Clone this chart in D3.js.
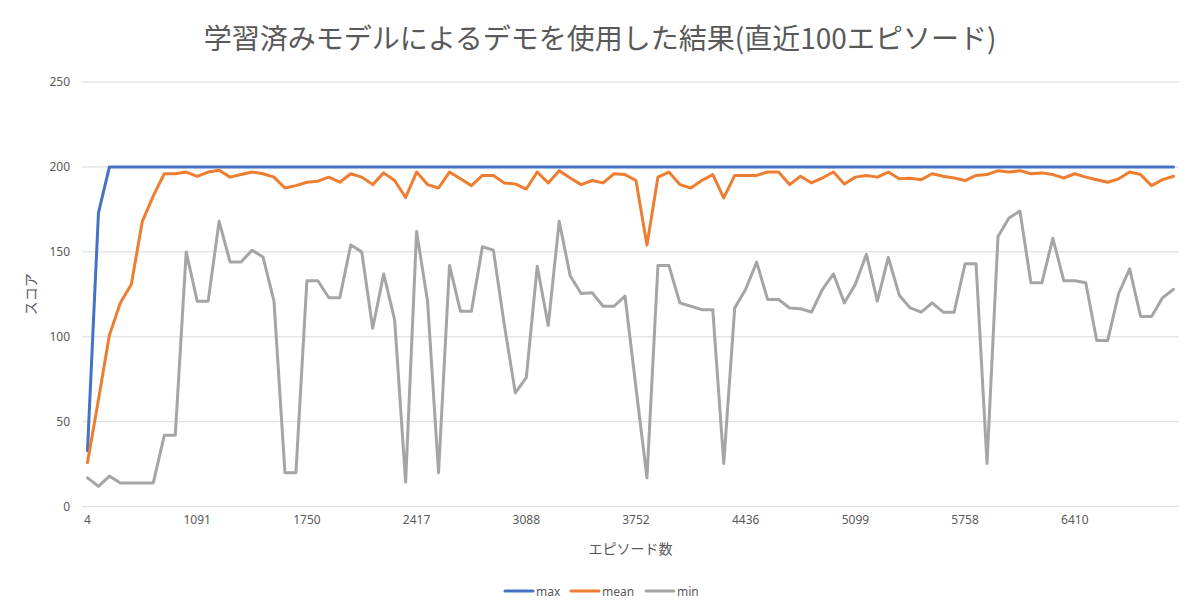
<!DOCTYPE html>
<html><head><meta charset="utf-8">
<script src="https://cdn.jsdelivr.net/npm/d3@7"></script>
<style>
html,body{margin:0;padding:0;background:#fff;}
svg{display:block;font-family:"Noto Sans CJK JP","Noto Sans",sans-serif;}
</style></head>
<body><svg id="c" width="1200" height="613"></svg>
<script>
const title = "学習済みモデルによるデモを使用した結果(直近100エピソード)";
const xTitle = "エピソード数";
const yTitle = "スコア";
const tickLabels = ["4","1091","1750","2417","3088","3752","4436","5099","5758","6410"];
const tickEvery = 10;
const yTicks = [0,50,100,150,200,250];
const maxVals = [33,173,200,200,200,200,200,200,200,200, 200,200,200,200,200,200,200,200,200,200,
 200,200,200,200,200,200,200,200,200,200, 200,200,200,200,200,200,200,200,200,200,
 200,200,200,200,200,200,200,200,200,200, 200,200,200,200,200,200,200,200,200,200,
 200,200,200,200,200,200,200,200,200,200, 200,200,200,200,200,200,200,200,200,200,
 200,200,200,200,200,200,200,200,200,200, 200,200,200,200,200,200,200,200,200,200];
const meanVals = [26,63,101,120,131,168,183,196,196,197, 194.5,197,198,194,195.5,197,196,194,187.6,189,
 191,191.6,194,191,196,194,189.6,196.5,192,182, 197,189.6,187.6,197,193,189,195,195,190.6,190,
 187,197,190.6,197.8,193.5,189.6,192,190.6,196,195.5, 192,154,194,197,189.6,187.6,192,195.5,181.8,195,
 195,195,197,197,189.6,194.5,190.6,193.5,197,190, 194,195,194,197,193,193.3,192.5,196,194.5,193.5,
 192,195,195.5,197.8,197,197.8,196,196.5,195.5,193.5, 196,194,192.5,191,193,197,195.5,189,192.5,194.5];
const minVals = [17,12,18,14,14,14,14,42,42,150, 121,121,168,144,144,151,147,121,20,20,
 133,133,123,123,154,150,105,137,110,14.5, 162,121,20,142,115,115,153,151,107,67,
 76,141.6,106.7,168,136,125.5,126,118,118,124, 70,17,142,142,120,118,116,116,25.5,117,
 128,144,122,122,117,116.5,114.5,128,137,120, 131,148.6,121,146.7,124.5,117,114.5,120,114.5,114.5,
 143,143,25.5,159,170,174,131.8,131.8,158,133, 133,131.8,97.8,97.8,125.5,140,112,112,123,128];
const series = [
  {name:"max", values:maxVals, color:"#4472C4"},
  {name:"mean", values:meanVals, color:"#ED7D31"},
  {name:"min", values:minVals, color:"#A5A5A5"}
];

const svg = d3.select("#c");
const L = 82, R = 1179, T = 82, B = 506.7;
const idx = d3.range(maxVals.length);
const x = d3.scaleBand().domain(idx).range([L, R]);
const y = d3.scaleLinear().domain([0,250]).range([B, T]);
const textCol = "#595959";

// gridlines
svg.append("g").selectAll("line").data(yTicks).join("line")
  .attr("x1", L).attr("x2", R)
  .attr("y1", d => y(d)).attr("y2", d => y(d))
  .attr("stroke", "#D9D9D9").attr("stroke-width", 1);

// y axis labels
const yAxis = d3.axisLeft(y).tickValues(yTicks).tickSize(0).tickPadding(12);
const gy = svg.append("g").attr("transform", `translate(${L},0)`).call(yAxis);
gy.select(".domain").remove();
gy.selectAll("text").attr("fill", textCol).style("font-size", "12px")
  .style("font-family", '"Noto Sans","Noto Sans CJK JP",sans-serif');

// x axis labels
const xAxis = d3.axisBottom(x).tickValues(idx.filter(i => i % tickEvery === 0))
  .tickFormat(i => tickLabels[i / tickEvery]).tickSize(0).tickPadding(9);
const gx = svg.append("g").attr("transform", `translate(0,${B})`).call(xAxis);
gx.select(".domain").remove();
gx.selectAll("text").attr("fill", textCol).style("font-size", "12px")
  .style("font-family", '"Noto Sans","Noto Sans CJK JP",sans-serif');

// lines
const line = d3.line().x((d, i) => x(i) + x.bandwidth() / 2).y(d => y(d));
svg.append("g").selectAll("path").data(series).join("path")
  .attr("d", d => line(d.values))
  .attr("fill", "none").attr("stroke", d => d.color)
  .attr("stroke-width", 3).attr("stroke-linejoin", "round").attr("stroke-linecap", "round");

// title
svg.append("text").attr("x", 600).attr("y", 49).attr("text-anchor", "middle")
  .attr("fill", textCol).style("font-size", "28px").text(title);

// axis titles
svg.append("text").attr("x", (L + R) / 2).attr("y", 554).attr("text-anchor", "middle")
  .attr("fill", textCol).style("font-size", "14px").text(xTitle);
svg.append("text").attr("transform", `translate(36,${(T + B) / 2}) rotate(-90)`)
  .attr("text-anchor", "middle").attr("fill", textCol).style("font-size", "14px").text(yTitle);

// legend
const lg = svg.append("g");
const legendX = [505, 571, 646];
series.forEach((s, i) => {
  const g = lg.append("g").attr("transform", `translate(${legendX[i]},591)`);
  g.append("line").attr("x1", 0).attr("x2", 28).attr("y1", 0).attr("y2", 0)
    .attr("stroke", s.color).attr("stroke-width", 3).attr("stroke-linecap", "round");
  g.append("text").attr("x", 31).attr("y", 4.5).attr("fill", textCol)
    .style("font-size", "12px").style("font-family", '"Noto Sans","Noto Sans CJK JP",sans-serif')
    .text(s.name);
});
</script></body></html>
